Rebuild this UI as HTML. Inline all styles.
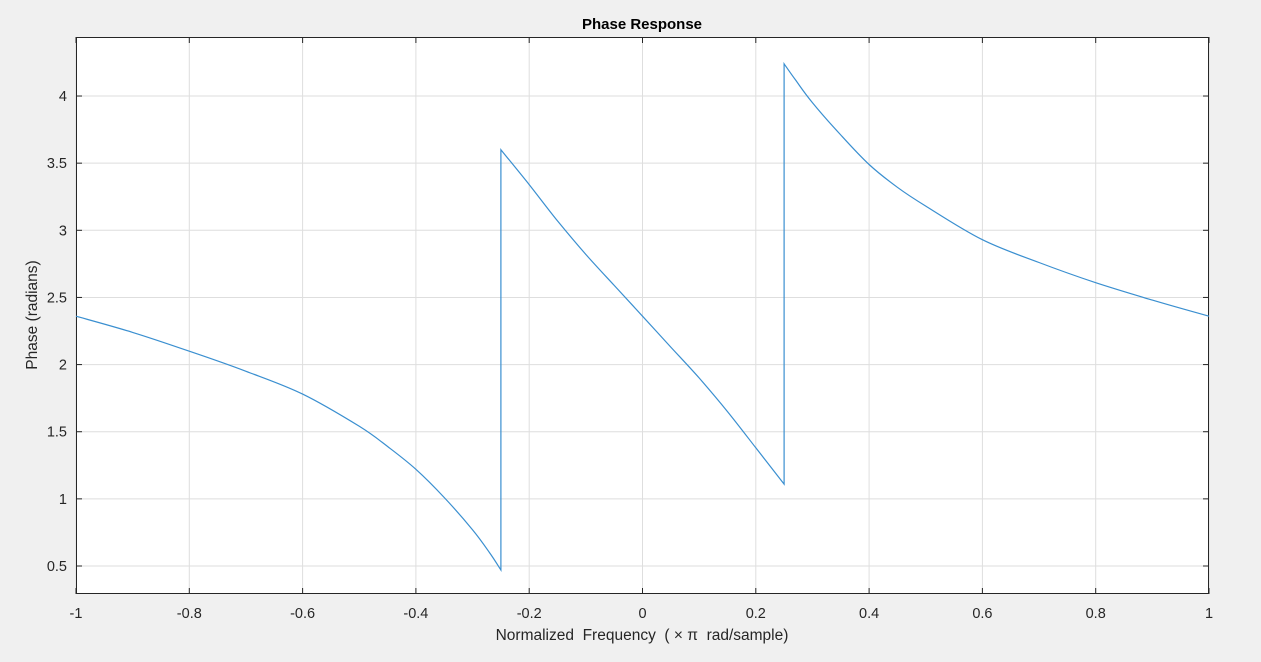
<!DOCTYPE html>
<html><head><meta charset="utf-8"><style>
body{margin:0;background:#f0f0f0;font-family:"Liberation Sans",Arial,sans-serif;}
svg{display:block}
text{white-space:pre}
</style></head><body>
<svg id="c" width="1261" height="662" xmlns="http://www.w3.org/2000/svg"></svg>
<script>
const xTicks=[-1,-0.8,-0.6,-0.4,-0.2,0,0.2,0.4,0.6,0.8,1];
const xTickLabels=["-1","-0.8","-0.6","-0.4","-0.2","0","0.2","0.4","0.6","0.8","1"];
const yTicks=[0.5,1,1.5,2,2.5,3,3.5,4];
const yTickLabels=["0.5","1","1.5","2","2.5","3","3.5","4"];
const seg1X=[-1,-0.9,-0.8,-0.7,-0.6,-0.5,-0.45,-0.4,-0.35,-0.3,-0.27,-0.25];
const seg1Y=[2.36,2.24,2.1,1.95,1.78,1.54,1.39,1.22,1.01,0.77,0.6,0.47];
const seg2X=[-0.25,-0.2,-0.15,-0.1,-0.05,0,0.05,0.1,0.15,0.2,0.25];
const seg2Y=[3.6,3.34,3.07,2.82,2.59,2.36,2.13,1.9,1.65,1.38,1.11];
const seg3X=[0.25,0.27,0.3,0.35,0.4,0.45,0.5,0.6,0.7,0.8,0.9,1];
const seg3Y=[4.24,4.12,3.95,3.71,3.49,3.32,3.18,2.93,2.76,2.61,2.48,2.36];
const L=76,R=1209,T=37,B=594;
const X=v=>L+(v+1)/2*(R-L);
const Y=v=>566-(v-0.5)/0.5*67.14;
const svg=document.getElementById('c');
const NS='http://www.w3.org/2000/svg';
function mk(t,a,p){const e=document.createElementNS(NS,t);for(const k in a)e.setAttribute(k,a[k]);(p||svg).appendChild(e);return e;}
const bg=mk('rect',{x:L,y:T,width:R-L,height:B-T,fill:'#fff'});


xTicks.forEach((v,i)=>{
 const g=mk('line',{x1:X(v),x2:X(v),y1:T,y2:B,stroke:'#dedede','stroke-width':1});
 
 
 mk('line',{x1:X(v),x2:X(v),y1:B,y2:B-6,stroke:'#262626'});
 mk('line',{x1:X(v),x2:X(v),y1:T,y2:T+6,stroke:'#262626'});
 const t=mk('text',{x:X(v),y:618,'text-anchor':'middle','font-size':14.5,fill:'#262626'});
 t.textContent=xTickLabels[i];
 
 
});
yTicks.forEach((v,i)=>{
 const g=mk('line',{x1:L,x2:R,y1:Y(v),y2:Y(v),stroke:'#dedede','stroke-width':1});
 
 
 mk('line',{x1:L,x2:L+6,y1:Y(v),y2:Y(v),stroke:'#262626'});
 mk('line',{x1:R,x2:R-6,y1:Y(v),y2:Y(v),stroke:'#262626'});
 const t=mk('text',{x:67,y:Y(v)+5,'text-anchor':'end','font-size':14.5,fill:'#262626'});
 t.textContent=yTickLabels[i];
 
 
});
const fr=mk('rect',{x:L+0.5,y:T+0.5,width:R-L-1,height:B-T-1,fill:'none',stroke:'#262626','stroke-width':1});


function smooth(xs,ys){
 const p=xs.map((x,i)=>[X(x),Y(ys[i])]);
 let d='M'+p[0][0].toFixed(1)+','+p[0][1].toFixed(1);
 for(let i=0;i<p.length-1;i++){
  const p0=p[Math.max(0,i-1)],p1=p[i],p2=p[i+1],p3=p[Math.min(p.length-1,i+2)];
  const c1=[p1[0]+(p2[0]-p0[0])/6,p1[1]+(p2[1]-p0[1])/6];
  const c2=[p2[0]-(p3[0]-p1[0])/6,p2[1]-(p3[1]-p1[1])/6];
  d+=' C'+c1.map(v=>v.toFixed(1)).join(',')+' '+c2.map(v=>v.toFixed(1)).join(',')+' '+p2[0].toFixed(1)+','+p2[1].toFixed(1);
 }
 return d;
}
let d=smooth(seg1X,seg1Y)+' L'+X(seg2X[0]).toFixed(1)+','+Y(seg2Y[0]).toFixed(1)+smooth(seg2X,seg2Y).replace(/^M[^ ]+/,'')+' L'+X(seg3X[0]).toFixed(1)+','+Y(seg3Y[0]).toFixed(1)+smooth(seg3X,seg3Y).replace(/^M[^ ]+/,'');
const pl=mk('path',{d:d,fill:'none',stroke:'#3a8fd0','stroke-width':1.2});


const ti=mk('text',{x:642,y:29,'text-anchor':'middle','font-size':15,'font-weight':'bold',fill:'#000'});
ti.textContent='Phase Response';


const xl=mk('text',{x:642,y:640,'text-anchor':'middle','font-size':15.5,fill:'#262626'});
xl.textContent='Normalized  Frequency  ( \u00d7 \u03c0  rad/sample)';


const yl=mk('text',{x:37,y:315,'text-anchor':'middle','font-size':15.5,fill:'#262626',transform:'rotate(-90 37 315)'});
yl.textContent='Phase (radians)';


</script>
</body></html>
